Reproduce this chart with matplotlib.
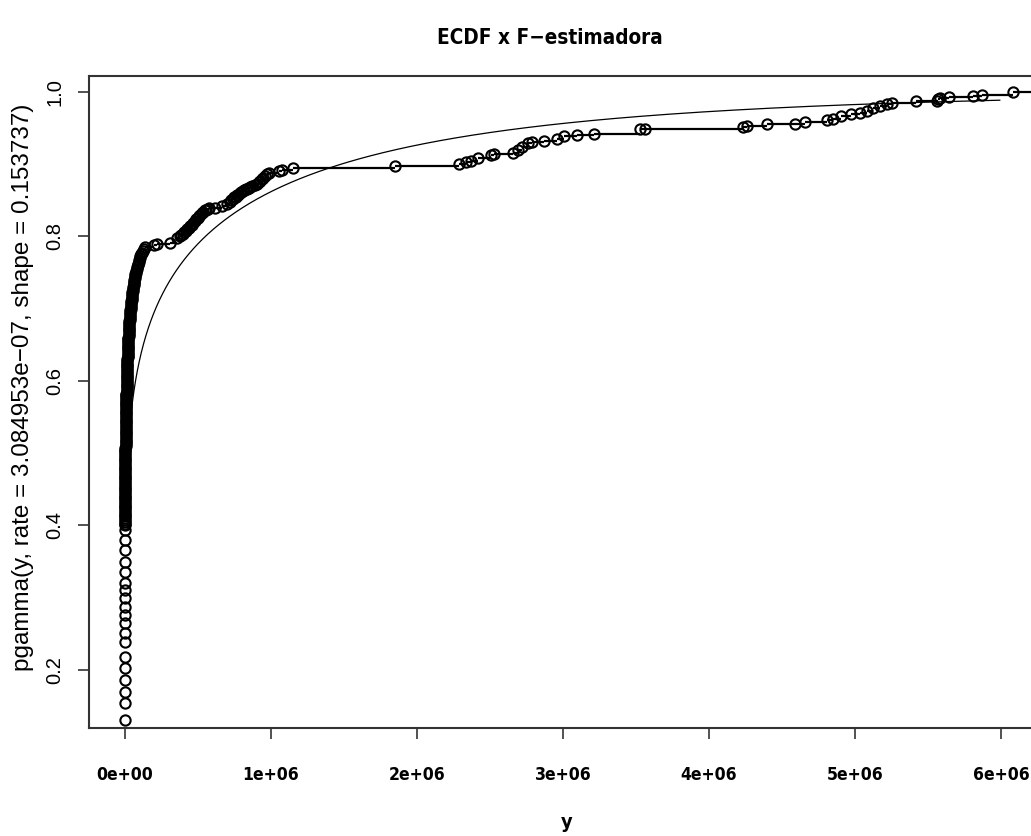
import math
import numpy as np
import matplotlib
matplotlib.use("Agg")
import matplotlib.pyplot as plt
from matplotlib import font_manager
from matplotlib.font_manager import FontProperties

# fitted gamma parameters (from the y-axis label)
gamma_rate = 3.084953e-07
gamma_shape = 0.153737
curve_from = 4.5e4
curve_to = 5.99e6

# empirical CDF: jump points (y) and cumulative proportion
# small values, each with several ties
low_x = [0, 100, 200, 300, 400, 500, 600, 700, 800, 900,
         1000, 1100, 1200, 1300, 1400, 1500, 1600, 1700, 1800]
low_F = [0.131, 0.154, 0.170, 0.186, 0.203, 0.218, 0.239, 0.251, 0.265, 0.276,
         0.287, 0.300, 0.311, 0.320, 0.336, 0.349, 0.366, 0.380, 0.394]

# dense run of observations close to zero
dense_x = [
    2000, 2150, 2300, 2450, 2600, 2750, 2900, 3000, 3100, 3200,
    3300, 3400, 3500, 3600, 3700, 3800, 3900, 4000, 4100, 4200,
    4300, 4400, 4500, 4600, 4700, 4800, 4900, 5000, 5100, 5200,
    5300, 5400, 5500, 5600, 5700, 5800, 5900, 6000, 6100, 6200, 6300,
    6450, 6600, 6750, 6900, 7050, 7200, 7350, 7500, 7700, 7900,
    8100, 8300, 8500, 8700, 8900, 9100, 9300, 9500, 9750, 10000,
    10250, 10500, 10750, 11000, 11250, 11500, 11750, 12000, 12300, 12600,
    12900, 13200, 13500, 13800, 14100, 14400, 14700, 15000, 15350, 15700,
    16050, 16400, 16750, 17100, 17500, 17900, 18300, 18700, 19100, 19500,
    19950, 20400, 20850, 21300, 21800, 22300, 22800, 23300, 23850, 24400,
    25000, 25600, 26250, 26900, 27600, 28300, 29050, 29800, 30600, 31400,
    32250, 33100, 34050, 35000, 36000, 37000, 38100, 39200, 40350, 41500,
    42750, 44000, 45350, 46700, 48150, 49600, 51150, 52700, 54350, 56000,
    57800, 59600, 61550, 63500, 65650, 67800, 70150, 72500, 75050, 77600,
    80400, 83200, 86350, 89500, 93000, 96500, 100250, 104000, 108500, 113000,
    118500, 124000, 131000, 138000,
]
dense_F = [
    0.4000, 0.4025, 0.4050, 0.4075, 0.4100, 0.4125, 0.4150, 0.4175, 0.4200, 0.4225,
    0.4250, 0.4275, 0.4300, 0.4325, 0.4350, 0.4375, 0.4400, 0.4425, 0.4450, 0.4475,
    0.4500, 0.4525, 0.4550, 0.4575, 0.4600, 0.4625, 0.4650, 0.4675, 0.4700, 0.4725,
    0.4750, 0.4775, 0.4800, 0.4825, 0.4850, 0.4875, 0.4900, 0.4925, 0.4950, 0.4975, 0.5000,
    0.5025, 0.5050, 0.5075, 0.5100, 0.5125, 0.5150, 0.5175, 0.5200, 0.5225, 0.5250,
    0.5275, 0.5300, 0.5325, 0.5350, 0.5375, 0.5400, 0.5425, 0.5450, 0.5475, 0.5500,
    0.5525, 0.5550, 0.5575, 0.5600, 0.5625, 0.5650, 0.5675, 0.5700, 0.5725, 0.5750,
    0.5775, 0.5800, 0.5825, 0.5850, 0.5875, 0.5900, 0.5925, 0.5950, 0.5975, 0.6000,
    0.6025, 0.6050, 0.6075, 0.6100, 0.6125, 0.6150, 0.6175, 0.6200, 0.6225, 0.6250,
    0.6275, 0.6300, 0.6325, 0.6350, 0.6375, 0.6400, 0.6425, 0.6450, 0.6475, 0.6500,
    0.6525, 0.6550, 0.6575, 0.6600, 0.6625, 0.6650, 0.6675, 0.6700, 0.6725, 0.6750,
    0.6775, 0.6800, 0.6825, 0.6850, 0.6875, 0.6900, 0.6925, 0.6950, 0.6975, 0.7000,
    0.7025, 0.7050, 0.7075, 0.7100, 0.7125, 0.7150, 0.7175, 0.7200, 0.7225, 0.7250,
    0.7275, 0.7300, 0.7325, 0.7350, 0.7375, 0.7400, 0.7425, 0.7450, 0.7475, 0.7500,
    0.7525, 0.7550, 0.7575, 0.7600, 0.7625, 0.7650, 0.7675, 0.7700, 0.7725, 0.7750,
    0.7775, 0.7800, 0.7825, 0.7850,
]

# upper tail
tail_x = [
    205000, 220000, 310000, 360000,
    380000, 390000, 400000, 410000, 420000, 430000, 440000, 450000, 460000, 470000,
    480000, 490000, 500000, 510000, 520000, 530000, 540000, 550000, 560000, 570000, 580000,
    620000, 670000, 700000,
    720000, 730000, 740000, 750000, 760000, 770000, 780000, 790000, 800000, 810000,
    820000, 830000, 840000, 850000, 860000,
    875000, 890000, 905000, 920000, 930000, 940000, 950000, 960000, 975000,
    990000, 1060000, 1080000, 1150000,
    1850000,
    2290000, 2340000, 2370000, 2420000, 2510000, 2530000,
    2660000, 2690000, 2720000, 2760000, 2790000, 2870000, 2960000, 3010000, 3100000, 3210000,
    3530000, 3560000,
    4230000, 4260000, 4400000, 4590000, 4660000, 4810000, 4850000,
    4900000, 4970000, 5030000, 5080000, 5120000, 5170000, 5220000, 5250000,
    5420000, 5560000, 5570000, 5580000, 5640000, 5810000, 5870000, 6080000,
]
tail_F = [
    0.788, 0.790, 0.791, 0.798,
    0.800, 0.802, 0.804, 0.806, 0.808, 0.810, 0.812, 0.814, 0.816, 0.819,
    0.821, 0.824, 0.826, 0.828, 0.830, 0.832, 0.834, 0.836, 0.837, 0.838, 0.839,
    0.840, 0.842, 0.845,
    0.848, 0.850, 0.852, 0.854, 0.855, 0.857, 0.858, 0.860, 0.861, 0.863,
    0.864, 0.865, 0.866, 0.867, 0.868,
    0.870, 0.871, 0.873, 0.875, 0.877, 0.879, 0.881, 0.883, 0.886,
    0.888, 0.891, 0.892, 0.895,
    0.898,
    0.900, 0.903, 0.905, 0.909, 0.913, 0.914,
    0.916, 0.920, 0.924, 0.929, 0.931, 0.932, 0.935, 0.939, 0.941, 0.942,
    0.948, 0.949,
    0.952, 0.953, 0.955, 0.956, 0.959, 0.961, 0.963,
    0.966, 0.969, 0.971, 0.973, 0.978, 0.980, 0.983, 0.985,
    0.987, 0.988, 0.9895, 0.991, 0.993, 0.994, 0.996, 1.000,
]

x_ticks = [0, 1e6, 2e6, 3e6, 4e6, 5e6, 6e6]
x_tick_labels = ["0e+00", "1e+06", "2e+06", "3e+06", "4e+06", "5e+06", "6e+06"]
y_ticks = [0.2, 0.4, 0.6, 0.8, 1.0]
y_tick_labels = ["0.2", "0.4", "0.6", "0.8", "1.0"]

title = "ECDF x F\u2212estimadora"
xlab = "y"
ylab = "pgamma(y, rate = 3.084953e\u221207, shape = 0.153737)"


def pgamma(x, shape, rate):
    # regularized lower incomplete gamma, series expansion
    z = rate * x
    term = 1.0 / shape
    total = term
    n = 0
    while term > 1e-14 * total:
        n += 1
        term *= z / (shape + n)
        total += term
    return math.exp(shape * math.log(z) - z - math.lgamma(shape)) * total


def narrow_bold():
    # look for a condensed bold face; fall back to plain bold
    fonts = font_manager.fontManager.ttflist
    for f in fonts:
        if f.name == "Liberation Sans Narrow" and f.weight in (700, "bold") and f.style == "normal":
            return FontProperties(fname=f.fname), 1.0
    for f in fonts:
        if f.name == "DejaVu Sans" and "condensed" in str(f.stretch) \
                and f.weight in (700, "bold") and f.style == "normal":
            return FontProperties(fname=f.fname), 0.9
    return FontProperties(family="Liberation Sans", weight="bold"), 0.8


bold_fp, scale = narrow_bold()

W, H = 1031, 836
fig = plt.figure(figsize=(W / 100, H / 100), dpi=100)
# plot region in pixels: left 89, right 1048 (past the image edge), top 76, bottom 728
ax = fig.add_axes([89 / W, (H - 728) / H, (1048 - 89) / W, (728 - 76) / H])

ex = np.array(low_x + dense_x + tail_x, dtype=float)
eF = np.array(low_F + dense_F + tail_F)

# fitted curve
cx = np.geomspace(curve_from, curve_to, 600)
cy = [pgamma(v, gamma_shape, gamma_rate) for v in cx]
ax.plot(cx, cy, color="black", lw=0.9)

# step function without verticals, extended to the right
span = ex[-1] - ex[0]
right = np.append(ex[1:], ex[-1] + 0.04 * span)
ax.hlines(eF, ex, right, colors="black", lw=1.6)
ax.plot(ex, eF, linestyle="none", marker="o", ms=7.4, mfc="none",
        mec="black", mew=1.5)

ax.set_xlim(-0.243e6, 6.32e6)
ax.set_ylim(0.1197, 1.022)

ax.set_xticks(x_ticks)
ax.set_xticklabels(x_tick_labels)
for t in ax.get_xticklabels():
    t.set_fontproperties(bold_fp)
    t.set_fontsize(14 * scale)
ax.set_yticks(y_ticks)
ax.set_yticklabels(y_tick_labels, fontfamily="Liberation Sans", fontsize=14.5,
                   rotation=90, va="center")
ax.tick_params(axis="both", direction="out", length=8, width=1.2, color="#333333")
ax.tick_params(axis="x", pad=19)
ax.tick_params(axis="y", pad=10)
for s in ax.spines.values():
    s.set_linewidth(1.5)
    s.set_color("#333333")

fig.text(550 / W, 1 - 38 / H, title, ha="center", va="center",
         fontproperties=bold_fp, fontsize=16.5 * scale)
fig.text(567 / W, 1 - 823 / H, xlab, ha="center", va="center",
         fontproperties=bold_fp, fontsize=16 * scale)
fig.text(23 / W, 1 - 387 / H, ylab, ha="center", va="center", rotation=90,
         fontfamily="Liberation Sans", fontsize=17.5)

fig.savefig("out.png", dpi=100)
